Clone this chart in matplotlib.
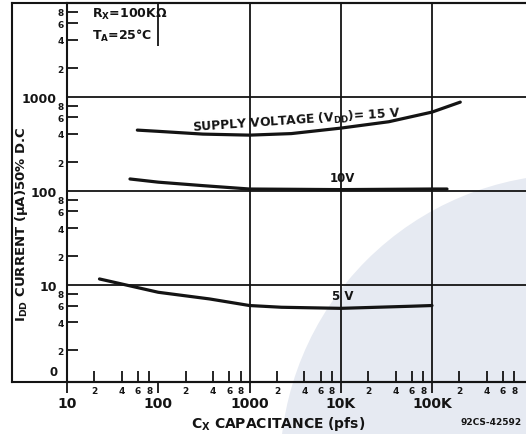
import matplotlib
matplotlib.use("Agg")
from matplotlib import pyplot as plt
from matplotlib.lines import Line2D
from matplotlib.patches import Wedge
import matplotlib.transforms as transforms

# Curves (Cx in pF, Idd in uA)
cx_15v = [59, 100, 308, 1000, 2870, 10000, 33600, 100000, 204000]
idd_15v = [440, 427, 399, 389, 404, 462, 540, 684, 873]
cx_10v = [49, 100, 308, 1000, 10000, 100000, 146000]
idd_10v = [133, 123, 113, 104, 102.5, 104, 104]
cx_5v = [22.7, 100, 365, 1000, 2245, 10000, 60000, 100000]
idd_5v = [11.5, 8.3, 7.05, 6.0, 5.75, 5.6, 5.9, 6.0]

# Axis ticks
x_decades = [10, 100, 1000, 10000, 100000]
x_decade_labels = ["10", "100", "1000", "10K", "100K"]
x_minor_decades = [10, 100, 1000, 10000, 100000]
y_decades = [10, 100, 1000]
y_decade_labels = ["10", "100", "1000"]
y_minor_decades = [1, 10, 100, 1000]
minor_steps = [2, 4, 6, 8]

plt.rcParams['font.family'] = ['DejaVu Sans']
plt.rcParams['font.weight'] = 'bold'
plt.rcParams['mathtext.default'] = 'bf'

ink = "#141414"
W, H = 526, 435

fig = plt.figure(figsize=(W / 100, H / 100), dpi=100)
fig.patch.set_facecolor("white")

# faint watermark swoosh from the scan
fig.patches.append(Wedge((575, -35), 295, 90, 180, facecolor="#e6eaf2", edgecolor="none",
                         transform=transforms.IdentityTransform(), zorder=0))

ax = fig.add_axes([67 / W, 1 - 383 / H, 1 - 67 / W, (383 - 4) / H])
ax.set_zorder(2)
ax.patch.set_visible(False)
ax.set_xscale("log")
ax.set_yscale("log")
ax.set_xlim(10, 10 ** 6.03)
ax.set_ylim(10 ** -0.035, 10 ** 3.995)

# curves
for cx, idd in [(cx_15v, idd_15v), (cx_10v, idd_10v), (cx_5v, idd_5v)]:
    ax.plot(cx, idd, color=ink, linewidth=2.3, solid_capstyle="round", zorder=3)

# grid lines at the decades
for y in y_decades:
    ax.axhline(y, color=ink, linewidth=1.3, zorder=2)
for x in x_decades[1:]:
    bottom = 3440 if x == 100 else ax.get_ylim()[0]
    ax.vlines(x, bottom, ax.get_ylim()[1], color=ink, linewidth=1.3, zorder=2)

# ticks
ax.set_xticks(x_decades)
ax.set_xticklabels(x_decade_labels)
ax.set_xticks([m * d for d in x_minor_decades for m in minor_steps], minor=True)
ax.set_xticklabels([str(m) for d in x_minor_decades for m in minor_steps], minor=True)
ax.set_yticks(y_decades)
ax.set_yticklabels(y_decade_labels)
ax.set_yticks([m * d for d in y_minor_decades for m in minor_steps], minor=True)
ax.set_yticklabels([str(m) for d in y_minor_decades for m in minor_steps], minor=True)

ax.tick_params(axis='x', which='major', direction='out', length=8, width=1.3, labelsize=10, pad=2, colors=ink)
ax.tick_params(axis='x', which='minor', direction='in', length=8, width=1.3, labelsize=6.5, pad=3, colors=ink)
ax.tick_params(axis='y', which='major', length=0, labelsize=9, pad=7.5, colors=ink)
ax.tick_params(axis='y', which='minor', direction='in', length=8, width=1.3, labelsize=6.5, pad=2.5, colors=ink)

for side in ["left", "bottom", "top"]:
    ax.spines[side].set_linewidth(1.5)
    ax.spines[side].set_color(ink)
ax.spines["right"].set_visible(False)

# the bottom label of the y axis reads "0" on the sheet
ax.text(-0.02, 1.19, "0", transform=transforms.blended_transform_factory(ax.transAxes, ax.transData),
        ha="right", va="center", fontsize=8.5, color=ink)

# outer frame
def fx(px):
    return px / W
def fy(py):
    return 1 - py / H
fig.add_artist(Line2D([fx(12), fx(12)], [fy(4), fy(383)], color=ink, linewidth=1.5))
fig.add_artist(Line2D([fx(12), 1], [fy(4), fy(4)], color=ink, linewidth=1.5))
fig.add_artist(Line2D([fx(12), 1], [fy(383), fy(383)], color=ink, linewidth=1.5))

# labels
ax.text(19, 7600, r"R$_X$=100KΩ", fontsize=9, color=ink, ha="left", va="center")
ax.text(19, 4500, r"T$_A$=25°C", fontsize=9, color=ink, ha="left", va="center")
ax.text(3300, 565, r"SUPPLY VOLTAGE (V$_{DD}$)= 15 V", fontsize=8.8, color=ink, ha="center", va="center", rotation=4)
ax.text(10500, 139, "10V", fontsize=8.5, color=ink, ha="center", va="center")
ax.text(10500, 7.6, "5 V", fontsize=8.5, color=ink, ha="center", va="center")

fig.text(22 / W, fy(224), r"I$_{DD}$ CURRENT (µA)50% D.C", rotation=90, fontsize=9.5,
         ha="center", va="center", color=ink)
fig.text(278 / W, fy(424), r"C$_X$ CAPACITANCE (pfs)", fontsize=10, ha="center", va="center", color=ink)
fig.text(522 / W, fy(423), "92CS-42592", fontsize=6.5, ha="right", va="center", color=ink)

fig.savefig("out.png", dpi=100, facecolor="white")
